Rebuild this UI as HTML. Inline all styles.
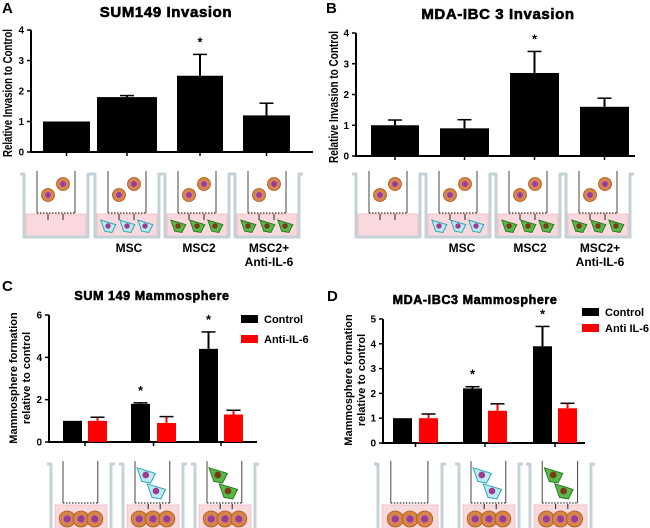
<!DOCTYPE html>
<html><head><meta charset="utf-8"><style>
html,body{margin:0;padding:0;background:#fff}
svg{display:block}
text{font-family:"Liberation Sans",Arial,sans-serif}
</style></head><body>
<svg id="fig" width="650" height="528" viewBox="0 0 650 528" xmlns="http://www.w3.org/2000/svg"></svg>
<script>
// ---- Data ----
const catA = ["Control","MSC","MSC2","MSC2+Anti-IL-6"];
const valA = [1.0, 1.8, 2.5, 1.2];
const errA = [0, 0.05, 0.7, 0.4];
const sigA = [false,false,true,false];
const ticksA = [0,1,2,3,4];

const catB = ["Control","MSC","MSC2","MSC2+Anti-IL-6"];
const valB = [1.0, 0.9, 2.7, 1.6];
const errB = [0.17, 0.28, 0.7, 0.28];
const sigB = [false,false,true,false];
const ticksB = [0,1,2,3,4];

const catC = ["None","MSC","MSC2"];
const ctrlC = [1.0, 1.8, 4.4];
const ctrlErrC = [0, 0.05, 0.8];
const antiC = [1.0, 0.9, 1.3];
const antiErrC = [0.17, 0.3, 0.2];
const sigC = [false,true,true];
const ticksC = [0,2,4,6];

const catD = ["None","MSC","MSC2"];
const ctrlD = [1.0, 2.2, 3.9];
const ctrlErrD = [0, 0.07, 0.8];
const antiD = [1.0, 1.3, 1.4];
const antiErrD = [0.17, 0.28, 0.2];
const sigD = [false,true,true];
const ticksD = [0,1,2,3,4,5];

const NS="http://www.w3.org/2000/svg";
const svg=document.getElementById('fig');
function el(tag,attrs,parent,txt){const e=document.createElementNS(NS,tag);for(const k in attrs)e.setAttribute(k,attrs[k]);if(txt!==undefined)e.textContent=txt;(parent||svg).appendChild(e);return e;}
function grp(name){const g=el('g',{});


return g;}

function axes(g,x0,x1,y0,yTop,maxV,ticks){
  const ys=v=>y0-(v/maxV)*(y0-yTop);
  const ax=el('line',{x1:x0,y1:y0,x2:x1,y2:y0,stroke:'#000','stroke-width':2},g);
  
  
  const ay=el('line',{x1:x0,y1:y0+1,x2:x0,y2:yTop,stroke:'#000','stroke-width':2},g);
  
  
  ticks.forEach(t=>{
    el('line',{x1:x0-4,y1:ys(t),x2:x0,y2:ys(t),stroke:'#000','stroke-width':1.5},g);
    const tl=el('text',{x:x0-7,y:ys(t)+3.5,'text-anchor':'end','font-size':10,'font-weight':'bold'},g,t);
    
    
  });
  return ys;
}
function bar(g,x,w,v,err,ys,color,name){
  const b=el('rect',{x:x,y:ys(v),width:w,height:ys(0)-ys(v),fill:color},g);
  
  
  if(err>0){
    const cx=x+w/2;
    el('line',{x1:cx,y1:ys(v),x2:cx,y2:ys(v+err),stroke:color,'stroke-width':2},g);
    el('line',{x1:cx-7,y1:ys(v+err),x2:cx+7,y2:ys(v+err),stroke:'#000','stroke-width':1.5},g);
  }
}
function star(g,cx,y){const s=el('text',{x:cx,y:y,'text-anchor':'middle','font-size':13,'font-weight':'bold'},g,'*');

}

// ---- cell drawings ----
function tumor(g,cx,cy,r){el('circle',{cx:cx,cy:cy,r:r,fill:'#d9843f',stroke:'#a8561f','stroke-width':0.8},g);el('circle',{cx:cx,cy:cy,r:r*0.5,fill:'#9b3d8f',stroke:'#c78ad0','stroke-width':0.6},g);}
function msc(g,cx,cy,s,green){
  const f=green?'#57b947':'#bfeaf0', st=green?'#2b7a22':'#2aa6b8', n=green?'#7a3a18':'#9b3d8f';
  el('path',{d:`M${cx-s*1.1},${cy-s*0.9} L${cx+s*1.2},${cy-s*0.2} L${cx+s*0.6},${cy+s} L${cx-s*0.5},${cy+s*0.8} Z`,fill:f,stroke:st,'stroke-width':1},g);
  el('circle',{cx:cx,cy:cy,r:s*0.42,fill:n},g);
}
function cup(g,x,y,w,h){
  el('path',{d:`M${x-4},${y+1} L${x},${y+1} L${x},${y+h} L${x+w},${y+h} L${x+w},${y+1} L${x+w+4},${y+1}`,fill:'none',stroke:'#c4d2d7','stroke-width':3,'stroke-linejoin':'round'},g);
}
function invWell(x,y,type,name){
  const g=grp(name);const w=64,h=64;
  el('rect',{x:x+2,y:y+41,width:w-4,height:h-42,fill:'#f9d9dd',stroke:'#f0b9c0','stroke-width':0.8},g);
  cup(g,x,y,w,h);
  el('line',{x1:x+13,y1:y-2,x2:x+13,y2:y+40,stroke:'#444','stroke-width':1},g);
  el('line',{x1:x+51,y1:y-2,x2:x+51,y2:y+40,stroke:'#444','stroke-width':1},g);
  el('line',{x1:x+13,y1:y+40,x2:x+51,y2:y+40,stroke:'#333','stroke-width':1.2,'stroke-dasharray':'1.5,1.5'},g);
  [x+24,x+39].forEach(ax=>{el('line',{x1:ax,y1:y+41,x2:ax,y2:y+47,stroke:'#222','stroke-width':1},g);});
  tumor(g,x+24,y+22,6.5);tumor(g,x+39,y+11,6.5);
  if(type>0)[x+13,x+32,x+50].forEach(cx=>msc(g,cx,y+53,6.5,type===2));
}
function mamWell(x,y,w,type,name){
  const g=grp(name);const h=70;
  el('rect',{x:x+4,y:y+42,width:w-8,height:h-42,fill:'#f9d9dd',stroke:'#f0b9c0','stroke-width':0.8},g);
  cup(g,x,y,w,h);
  const l=x+w*0.2,r=x+w*0.78;
  el('line',{x1:l,y1:y-2,x2:l,y2:y+40,stroke:'#444','stroke-width':1},g);
  el('line',{x1:r,y1:y-2,x2:r,y2:y+40,stroke:'#444','stroke-width':1},g);
  el('line',{x1:l,y1:y+40,x2:r,y2:y+40,stroke:'#333','stroke-width':1.2,'stroke-dasharray':'1.5,1.5'},g);
  if(type>0){[x+w*0.42,x+w*0.62].forEach(ax=>el('line',{x1:ax,y1:y+41,x2:ax,y2:y+46,stroke:'#222','stroke-width':1},g));
    msc(g,x+w*0.38,y+12,8,type===2);msc(g,x+w*0.55,y+28,8,type===2);}
  [x+w*0.27,x+w*0.5,x+w*0.73].forEach(cx=>tumor(g,cx,y+56,8));
}
function label(text,x,y,size,anchor,name,bold){const t=el('text',{x:x,y:y,'font-size':size,'font-weight':bold===false?'normal':'bold','text-anchor':anchor||'middle'},svg,text);

return t;}
function heavy(t){t.setAttribute('stroke','#000');t.setAttribute('stroke-width','0.6');t.setAttribute('letter-spacing','0.6');}

// ---- Panel A ----
(function(){
  const g=grp('panel-a-chart');
  const ys=axes(g,31,313,152,30,4,ticksA);
  const bx=[43,97,177,243], bw=[47,60,46,47];
  catA.forEach((c,i)=>{bar(g,bx[i],bw[i],valA[i],errA[i],ys,'#000','bar-a-'+i);
    el('line',{x1:bx[i]+bw[i]/2,y1:152,x2:bx[i]+bw[i]/2,y2:156,stroke:'#000','stroke-width':1.5},g);
    if(sigA[i])star(g,bx[i]+bw[i]/2,ys(valA[i]+errA[i])-8);});
  label('A',2,13,15,'start','panel-letter-a');
  heavy(label('SUM149 Invasion',166,17,15,'middle','title-a'));
  const yl=label('Relative Invasion to Control',0,0,12.5,'middle','y-axis-title-a');
  yl.setAttribute('transform','translate(12,93) rotate(-90)');yl.setAttribute('textLength','128');yl.setAttribute('lengthAdjust','spacingAndGlyphs');
  [24,95,165,235].forEach((x,i)=>invWell(x,173,[0,1,2,2][i],'well-a-'+i));
  label('MSC',129,252,12,'middle','label-a-msc');label('MSC2',199,252,12,'middle','label-a-msc2');
  label('MSC2+',269,252,12,'middle','label-a-msc2-plus');label('Anti-IL-6',269,266,12,'middle','label-a-anti-il6');
})();
// ---- Panel B ----
(function(){
  const g=grp('panel-b-chart');
  const ys=axes(g,356,635,156,33,4,ticksB);
  const bx=[371,440,510,580], bw=[48,49,49,49];
  catB.forEach((c,i)=>{bar(g,bx[i],bw[i],valB[i],errB[i],ys,'#000','bar-b-'+i);
    el('line',{x1:bx[i]+bw[i]/2,y1:156,x2:bx[i]+bw[i]/2,y2:160,stroke:'#000','stroke-width':1.5},g);
    if(sigB[i])star(g,bx[i]+bw[i]/2,ys(valB[i]+errB[i])-8);});
  label('B',326,13,15,'start','panel-letter-b');
  heavy(label('MDA-IBC 3 Invasion',498,19,15,'middle','title-b'));
  const yl=label('Relative Invasion to Control',0,0,12.5,'middle','y-axis-title-b');
  yl.setAttribute('transform','translate(338,97) rotate(-90)');yl.setAttribute('textLength','132');yl.setAttribute('lengthAdjust','spacingAndGlyphs');
  [356,426,496,566].forEach((x,i)=>invWell(x,173,[0,1,2,2][i],'well-b-'+i));
  label('MSC',462,252,12,'middle','label-b-msc');label('MSC2',530,252,12,'middle','label-b-msc2');
  label('MSC2+',600,252,12,'middle','label-b-msc2-plus');label('Anti-IL-6',600,266,12,'middle','label-b-anti-il6');
})();
// ---- Panel C ----
(function(){
  const g=grp('panel-c-chart');
  const ys=axes(g,49,257,442,315,6,ticksC);
  const cx=[63,131,199], ax=[88,157,224], w=19;
  catC.forEach((c,i)=>{
    bar(g,cx[i],w,ctrlC[i],ctrlErrC[i],ys,'#000','bar-c-control-'+i);
    bar(g,ax[i],w,antiC[i],antiErrC[i],ys,'#ff0000','bar-c-anti-'+i);
    const tx=(cx[i]+ax[i]+w)/2;el('line',{x1:tx,y1:442,x2:tx,y2:446,stroke:'#000','stroke-width':1.5},g);
    if(sigC[i])star(g,cx[i]+w/2,ys(ctrlC[i]+ctrlErrC[i])-8);
  });
  const l1=el('rect',{x:241,y:315,width:17,height:8,fill:'#000'},g);
  const l2=el('rect',{x:241,y:335,width:17,height:8,fill:'#ff0000'},g);
  label('Control',264,323,11,'start','legend-entry-control-c');label('Anti-IL-6',264,343,11,'start','legend-entry-anti-il6-c');
  label('C',2,291,15,'start','panel-letter-c');
  heavy(label('SUM 149 Mammosphere',152,300,12.5,'middle','title-c'));
  const y1=label('Mammosphere formation',0,0,11,'middle','y-axis-title-c');y1.setAttribute('transform','translate(17,378) rotate(-90)');
  const y2=label('relative to control',0,0,11,'middle','y-axis-title-c-2');y2.setAttribute('transform','translate(30,378) rotate(-90)');
  [[51,60],[123,60],[195,60]].forEach((p,i)=>mamWell(p[0],463,p[1],i,'well-c-'+i));
})();
// ---- Panel D ----
(function(){
  const g=grp('panel-d-chart');
  const ys=axes(g,383,585,443,319,5,ticksD);
  const cx=[393,463,533], ax=[419,488,558], w=19;
  catD.forEach((c,i)=>{
    bar(g,cx[i],w,ctrlD[i],ctrlErrD[i],ys,'#000','bar-d-control-'+i);
    bar(g,ax[i],w,antiD[i],antiErrD[i],ys,'#ff0000','bar-d-anti-'+i);
    const tx=(cx[i]+ax[i]+w)/2;el('line',{x1:tx,y1:443,x2:tx,y2:447,stroke:'#000','stroke-width':1.5},g);
    if(sigD[i])star(g,cx[i]+w/2,ys(ctrlD[i]+ctrlErrD[i])-8);
  });
  const l1=el('rect',{x:582,y:308,width:17,height:8,fill:'#000'},g);
  const l2=el('rect',{x:582,y:324,width:17,height:8,fill:'#ff0000'},g);
  label('Control',605,316,11,'start','legend-entry-control-d');label('Anti IL-6',605,332,11,'start','legend-entry-anti-il6-d');
  label('D',327,301,15,'start','panel-letter-d');
  heavy(label('MDA-IBC3 Mammosphere',475,304,12.5,'middle','title-d'));
  const y1=label('Mammosphere formation',0,0,11,'middle','y-axis-title-d');y1.setAttribute('transform','translate(352,380) rotate(-90)');
  const y2=label('relative to control',0,0,11,'middle','y-axis-title-d-2');y2.setAttribute('transform','translate(365,380) rotate(-90)');
  [[378,64],[459,60],[530,61]].forEach((p,i)=>mamWell(p[0],463,p[1],i,'well-d-'+i));
})();
</script>
</body></html>
